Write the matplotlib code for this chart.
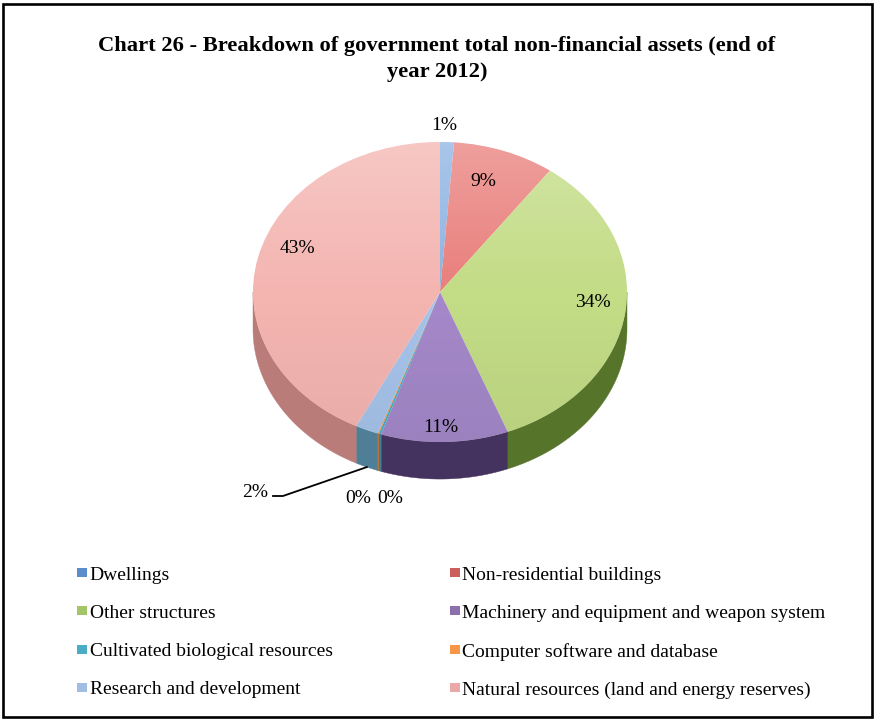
import numpy as np
import matplotlib.pyplot as plt
from matplotlib.patches import Polygon, Rectangle, Circle

plt.rcParams['font.family'] = ['Liberation Serif', 'DejaVu Serif']

# asset categories and their share of the total (per cent)
categories = ['Dwellings', 'Non-residential buildings', 'Other structures',
              'Machinery and equipment and weapon system',
              'Cultivated biological resources', 'Computer software and database',
              'Research and development',
              'Natural resources (land and energy reserves)']
shares = [1.2, 8.8, 34.1, 11.0, 0.2, 0.1, 2.0, 42.6]

top_colors = ['#8DB3E2', '#E97F7C', '#C3DC86', '#A488C9',
              '#4BACC6', '#F79646', '#A6C3EA', '#F4B5B1']
side_colors = ['#4F6F9A', '#A54D4A', '#56742A', '#45335F',
               '#3C7F94', '#B86A2E', '#4E7F97', '#BA7C78']
key_colors = ['#5B8CCB', '#CC5E5B', '#A4C468', '#8C70AE',
              '#4BACC6', '#F79646', '#A2BDE4', '#EAA9A7']

# where each percentage label sits (pie units)
label_pos = [(0.02, 1.11), (0.23, 0.74), (0.82, -0.07), (0.005, -0.90),
             (-0.44, -1.375), (-0.265, -1.375), (-0.99, -1.335), (-0.76, 0.29)]

W, H = 876, 720
fig = plt.figure(figsize=(W / 100, H / 100), dpi=100)

# background axes in pixel units for frame, title and legend
bg = fig.add_axes([0, 0, 1, 1])
bg.set_xlim(0, W)
bg.set_ylim(H, 0)
bg.axis('off')
bg.add_patch(Rectangle((2.5, 3.5), 869, 713, fill=False, lw=1.9, ec='black'))
bg.text(437, 59, 'Chart 26 - Breakdown of government total non-financial assets (end of\nyear 2012)',
        ha='center', va='center', fontsize=16.2, fontweight='bold', linespacing=1.38)

# pie axes: centre (440, 292) px, radii 187 x 150 px
cx, cy, rx, ry = 440, 292, 187, 150
lim = 1.3
pax = fig.add_axes([(cx - lim * rx) / W, (H - cy - lim * ry) / H,
                    2 * lim * rx / W, 2 * lim * ry / H])
wedges, _ = pax.pie(shares, colors=top_colors, startangle=90, counterclock=False,
                    wedgeprops=dict(linewidth=0))
pax.set_aspect('auto')
pax.set_xlim(-lim, lim)
pax.set_ylim(-lim, lim)
pax.axis('off')

# soft light from above on the top face
g = np.linspace(1, -1, 200)[:, None] * np.ones((1, 200))
shade = np.zeros((200, 200, 4))
shade[..., :3] = np.where(g[..., None] > 0, 1.0, 0.0)
shade[..., 3] = np.where(g > 0, 0.25 * g, 0.05 * -g)
img = pax.imshow(shade, extent=(-1, 1, -1, 1), aspect='auto', zorder=2)
img.set_clip_path(Circle((0, 0), 1, transform=pax.transData))

depth = 0.247
for w, sc in zip(wedges, side_colors):
    t1, t2 = w.theta1, w.theta2
    for k in (-1, 0, 1):
        lo = max(t1, 180 + 360 * k)
        hi = min(t2, 360 + 360 * k)
        if hi <= lo:
            continue
        t = np.radians(np.linspace(lo, hi, 80))
        xs = np.cos(t)
        ys = np.sin(t)
        pts = np.concatenate([np.column_stack([xs, ys]),
                              np.column_stack([xs[::-1], ys[::-1] - depth])])
        pax.add_patch(Polygon(pts, closed=True, fc=sc, ec=sc, lw=0.3, zorder=0))

total = sum(shares)
for w, s, (lx, ly) in zip(wedges, shares, label_pos):
    pax.text(lx, ly, f'{s / total * 100:.0f}%', ha='center', va='center',
             fontsize=14, clip_on=False, zorder=5)

# leader line for the research and development slice
rd = wedges[6]
mid = np.radians((rd.theta1 + rd.theta2) / 2)
ex, ey = np.cos(mid), np.sin(mid) - depth
pax.plot([-0.893, -0.84, ex], [-1.36, -1.36, ey], color='black', lw=1.3, clip_on=False)

# legend in two columns, row by row
for i, (name, kc) in enumerate(zip(categories, key_colors)):
    row, col = divmod(i, 2)
    x = [77, 450][col]
    y = 575 + 38.3 * row
    bg.add_patch(Rectangle((x, y - 7), 10, 9, fc=kc, ec='none'))
    bg.text(x + 12.5, y, name, ha='left', va='center', fontsize=14)

fig.savefig('out.png', dpi=100)
